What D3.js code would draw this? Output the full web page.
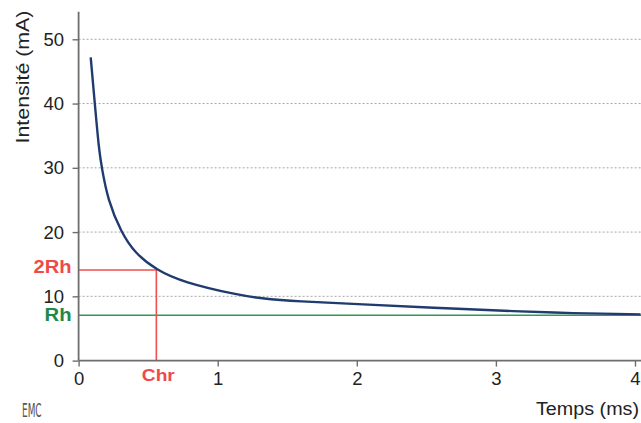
<!DOCTYPE html>
<html><head><meta charset="utf-8">
<script src="https://cdn.jsdelivr.net/npm/d3@7"></script>
<style>
html,body{margin:0;padding:0;background:#fff;}
svg{display:block;font-family:"Liberation Sans",Arial,sans-serif;}
</style></head>
<body><svg id="c" width="641" height="423"></svg>
<script>
// Data
const timeMs = [0.087, 0.116, 0.147, 0.166, 0.21, 0.305, 0.405, 0.56, 0.75, 1.146, 1.304, 1.568, 2.045, 2.526, 3.173, 3.533, 4.04];
const intensityMA = [47.2, 40.1, 32.7, 30.1, 25.0, 20.0, 16.7, 14.1, 12.2, 10.2, 9.7, 9.2, 8.75, 8.25, 7.65, 7.38, 7.2];
const xTicks = [0, 1, 2, 3, 4];
const yTicks = [0, 10, 20, 30, 40, 50];
const rheobase = 7.05;
const twoRheobase = 14.1;
const chronaxie = 0.559;

const svg = d3.select("#c");
const x0 = 78.6, xEnd = 641, yBase = 360.6, yTop = 11.7;
const x = d3.scaleLinear().domain([0, (xEnd - x0) / 139.1]).range([x0, xEnd]);
const y = d3.scaleLinear().domain([0, (yBase - yTop) / 6.426]).range([yBase, yTop]);

// grid lines
svg.append("g").selectAll("line").data(yTicks.filter(d => d > 0)).join("line")
  .attr("x1", x(0)).attr("x2", xEnd).attr("y1", d => y(d)).attr("y2", d => y(d))
  .attr("stroke", "#a8a8a8").attr("stroke-width", 1).attr("stroke-dasharray", "2,2");

// Rh line
svg.append("line").attr("x1", x(0)).attr("x2", xEnd).attr("y1", y(rheobase)).attr("y2", y(rheobase))
  .attr("stroke", "#2e9a55").attr("stroke-width", 1.6);

// 2Rh / Chr lines
svg.append("path")
  .attr("d", `M${x(0)},${y(twoRheobase)}H${x(chronaxie)}V${y(0)}`)
  .attr("fill", "none").attr("stroke", "#ee5050").attr("stroke-width", 1.6);

// axes
const xAxis = svg.append("g").attr("transform", `translate(0,${yBase})`)
  .call(d3.axisBottom(x).tickValues(xTicks).tickSize(6).tickPadding(5).tickFormat(d3.format("d")));
const yAxis = svg.append("g").attr("transform", `translate(${x0},0)`)
  .call(d3.axisLeft(y).tickValues(yTicks).tickSize(6).tickPadding(8.5).tickFormat(d3.format("d")));
[xAxis, yAxis].forEach(g => {
  g.select(".domain").attr("stroke", "#6e6e6e").attr("stroke-width", 1.8);
  g.selectAll(".tick line").attr("stroke", "#6e6e6e").attr("stroke-width", 1.4);
  g.selectAll(".tick text").attr("fill", "#222").attr("font-size", 18.5).attr("font-family", "Liberation Sans, Arial, sans-serif");
});
xAxis.select(".domain").attr("d", `M${x0},0H${xEnd}`);
yAxis.select(".domain").attr("d", `M0,${yBase}V${yTop}`);

// curve
svg.append("path").datum(timeMs.map((t, i) => [t, intensityMA[i]]))
  .attr("d", d3.line().x(d => x(d[0])).y(d => y(d[1])).curve(d3.curveBasis))
  .attr("fill", "none").attr("stroke", "#1f3b6f").attr("stroke-width", 2.4);

// labels
svg.append("text").attr("x", 71.5).attr("y", 272.7)
  .attr("text-anchor", "end").attr("font-weight", "bold").attr("font-size", 17.5)
  .attr("textLength", 38).attr("lengthAdjust", "spacingAndGlyphs").attr("fill", "#ee4a4a").text("2Rh");
svg.append("text").attr("x", 71.5).attr("y", 320.7)
  .attr("text-anchor", "end").attr("font-weight", "bold").attr("font-size", 17.5)
  .attr("textLength", 27).attr("lengthAdjust", "spacingAndGlyphs").attr("fill", "#20894a").text("Rh");
svg.append("text").attr("x", 158.3).attr("y", 380.5)
  .attr("text-anchor", "middle").attr("font-weight", "bold").attr("font-size", 16.5)
  .attr("textLength", 33).attr("lengthAdjust", "spacingAndGlyphs").attr("fill", "#ee4a4a").text("Chr");

svg.append("text").attr("transform", `translate(29,77) rotate(-90)`)
  .attr("text-anchor", "middle").attr("font-size", 17.5)
  .attr("textLength", 133).attr("lengthAdjust", "spacingAndGlyphs").attr("fill", "#222").text("Intensité (mA)");
svg.append("text").attr("x", 639).attr("y", 415)
  .attr("text-anchor", "end").attr("font-size", 17.5)
  .attr("textLength", 103).attr("lengthAdjust", "spacingAndGlyphs").attr("fill", "#222").text("Temps (ms)");

svg.append("text").attr("transform", "translate(22,417) scale(0.47,1)")
  .attr("font-size", 19).attr("fill", "#555").attr("font-family", "DejaVu Sans, sans-serif").text("EMC");
</script></body></html>
